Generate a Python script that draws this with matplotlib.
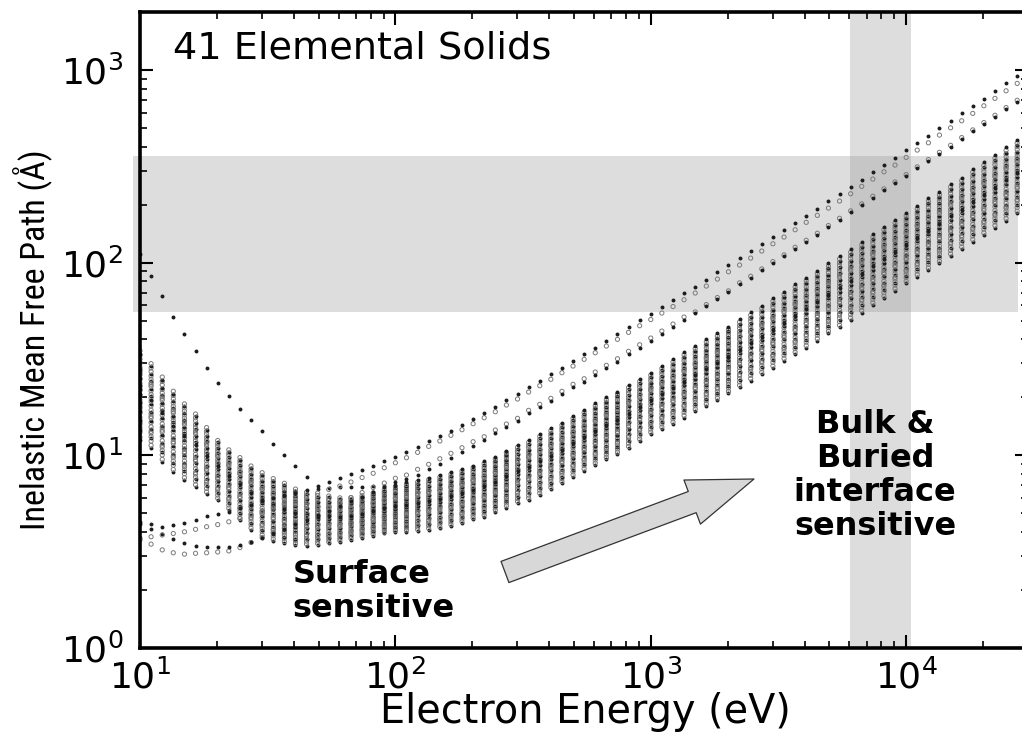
import numpy as np
import matplotlib
matplotlib.use("Agg")
import matplotlib.pyplot as plt
from matplotlib import font_manager
from matplotlib.patches import Rectangle
from matplotlib.ticker import LogLocator, LogFormatterMathtext, NullFormatter

# Electron kinetic energies of the tabulated IMFPs (eV)
energy_ev = [
    10.0, 11.05, 12.22, 13.50, 14.93, 16.50, 18.23, 20.15, 22.27, 24.62,
    27.21, 30.08, 33.25, 36.75, 40.62, 44.89, 49.62, 54.84, 60.62, 67.00,
    74.06, 81.85, 90.47, 100.0, 110.5, 122.2, 135.0, 149.3, 165.0, 182.3,
    201.5, 222.7, 246.2, 272.1, 300.8, 332.5, 367.5, 406.2, 448.9, 496.2,
    548.4, 606.2, 670.0, 740.6, 818.5, 904.7, 1000, 1105, 1222, 1350,
    1493, 1650, 1823, 2015, 2227, 2462, 2721, 3008, 3325, 3675,
    4062, 4489, 4962, 5484, 6062, 6700, 7406, 8185, 9047, 10000,
    11050, 12220, 13500, 14930, 16500, 18230, 20150, 22270, 24620, 27210,
]

# IMFPs (Angstrom) of the elements that stand apart from the main group
imfp_a = [
    111, 85.5, 67.1, 52.2, 42.5, 34.8, 28.3, 23.8, 20.3, 17.5,
    15.25, 13.3, 11.5, 10.0, 8.80, 7.74, 6.93, 7.30, 7.60, 8.00,
    8.39, 8.83, 9.34, 9.83, 10.4, 11.05, 11.8, 12.55, 13.4, 14.4,
    15.4, 16.5, 17.8, 19.3, 20.7, 22.6, 24.4, 26.3, 28.5, 30.9,
    33.4, 36.2, 39.2, 42.5, 46.1, 50.2, 54.1, 58.6, 63.7, 69.3,
    75.0, 81.2, 89.0, 96.8, 105.6, 114.5, 124.4, 135.3, 147.6, 160.5,
    175.2, 190.4, 208.0, 227.0, 247.6, 270.0, 294.2, 321.0, 350.3, 384.0,
    419.0, 454.0, 497.6, 545.0, 595.5, 649.5, 708.8, 777.0, 852.0, 933.0,
]
imfp_b = [
    3.72, 3.78, 3.86, 3.93, 4.01, 4.13, 4.26, 4.37, 4.52, 4.70,
    4.90, 5.11, 5.33, 5.59, 5.86, 6.11, 6.37, 6.65, 6.93, 7.27,
    7.67, 8.07, 8.62, 9.15, 9.72, 10.36, 11.13, 11.87, 12.70, 13.58,
    14.59, 15.67, 16.84, 18.24, 19.60, 21.31, 22.97, 24.80, 26.83, 29.07,
    31.50, 34.07, 36.92, 40.00, 43.48, 47.05, 50.67, 54.76, 59.19, 64.19,
    69.56, 75.6, 82.2, 89.7, 97.2, 105.6, 114.9, 125.3, 135.8, 148.2,
    161.9, 176.0, 192.0, 208.8, 227.8, 248.8, 271.6, 296.3, 321.0, 352.0,
    384.0, 419.0, 459.4, 501.2, 545.0, 595.5, 652.0, 712.3, 780.0, 852.0,
]
imfp_c = [
    3.64, 3.46, 3.23, 3.12, 3.07, 3.10, 3.12, 3.15, 3.19, 3.32,
    3.53, 3.74, 3.98, 4.22, 4.48, 4.76, 5.05, 5.36, 5.69, 6.04,
    6.41, 6.81, 7.18, 7.60, 7.90, 8.46, 8.98, 9.60, 10.24, 10.95,
    11.77, 12.49, 13.53, 14.54, 15.56, 17.12, 18.39, 19.76, 21.48, 23.36,
    24.98, 27.06, 29.31, 31.72, 34.65, 37.49, 40.62, 44.16, 48.02, 52.21,
    55.5, 60.6, 65.9, 71.4, 78.6, 85.0, 92.8, 101.3, 109.7, 120.2,
    130.7, 142.1, 155.8, 170.0, 185.7, 201.9, 221.1, 241.6, 262.5, 286.5,
    314.2, 342.9, 374.0, 406.7, 445.8, 488.8, 533.4, 582.0, 638.1, 696.3,
]
imfp_d = [
    4.40, 4.17, 3.90, 3.66, 3.49, 3.38, 3.33, 3.33, 3.36, 3.44,
    3.57, 3.74, 3.95, 4.17, 4.40, 4.64, 4.90, 5.17, 5.46, 5.76,
    6.07, 6.45, 6.85, 7.27, 7.53, 7.90, 8.46, 9.04, 9.68, 10.44,
    11.17, 12.01, 13.01, 13.98, 15.12, 16.52, 17.75, 19.06, 20.73, 22.54,
    24.09, 26.11, 28.28, 30.60, 33.43, 36.17, 39.19, 42.61, 46.33, 50.37,
    54.56, 59.55, 64.74, 70.14, 77.17, 83.47, 91.20, 99.52, 107.8, 118.1,
    128.4, 139.6, 153.0, 167.0, 182.4, 198.3, 217.2, 237.3, 257.9, 281.4,
    308.6, 336.8, 367.4, 399.5, 437.9, 480.1, 524.0, 571.7, 626.8, 684.0,
]
imfp_e = [
    4.51, 4.40, 4.26, 4.35, 4.44, 4.62, 4.84, 4.96, 5.10, 5.33,
    5.55, 5.79, 6.00, 6.22, 6.41, 6.57, 6.69, 6.77, 6.81, 6.85,
    6.89, 6.93, 6.97, 7.01, 7.23, 7.44, 7.67, 7.90, 8.19, 8.49,
    8.85, 9.29, 9.80, 10.59, 11.31, 12.01, 12.90, 13.81, 14.76, 15.99,
    17.18, 18.62, 20.00, 21.38, 23.16, 24.89, 26.83, 29.07, 31.50, 34.23,
    36.92, 40.00, 42.97, 46.48, 50.79, 55.21, 59.74, 65.28, 70.63, 77.17,
    83.47, 90.45, 99.16, 108.2, 117.2, 127.9, 140.3, 153.6, 166.4, 180.9,
    196.7, 215.7, 232.5, 255.8, 275.8, 305.0, 331.6, 360.5, 396.6, 432.8,
]

# Upper and lower envelope of the main group of 36 elements (Angstrom)
band_high = [
    36.5, 31.2, 26.6, 22.4, 19.2, 17.0, 14.4, 12.3, 11.0, 10.04,
    9.09, 8.39, 7.81, 7.38, 6.87, 6.61, 6.35, 6.30, 6.15, 6.15,
    6.30, 6.53, 6.77, 7.01, 7.23, 7.44, 7.67, 7.90, 8.19, 8.49,
    8.85, 9.29, 9.80, 10.59, 11.31, 12.01, 12.90, 13.81, 14.76, 15.99,
    17.18, 18.62, 20.00, 21.38, 23.16, 24.89, 26.83, 29.07, 31.50, 34.23,
    36.92, 40.00, 42.97, 46.48, 50.79, 55.21, 59.74, 65.28, 70.63, 77.17,
    83.47, 90.45, 99.16, 108.2, 117.2, 127.9, 140.3, 153.6, 166.4, 180.9,
    196.7, 215.7, 232.5, 255.8, 275.8, 305.0, 331.6, 360.5, 396.6, 432.8,
]
band_low = [
    12.01, 10.91, 9.23, 8.19, 7.44, 6.85, 6.30, 5.86, 5.20, 4.62,
    4.10, 3.77, 3.59, 3.49, 3.42, 3.40, 3.42, 3.49, 3.55, 3.64,
    3.74, 3.83, 3.93, 4.00, 4.02, 4.05, 4.10, 4.18, 4.30, 4.44,
    4.65, 4.80, 5.10, 5.36, 5.64, 5.86, 6.22, 6.66, 7.16, 7.74,
    8.34, 8.91, 9.54, 10.16, 10.87, 11.87, 12.90, 13.69, 14.54, 15.71,
    16.98, 18.03, 19.36, 20.98, 22.54, 24.39, 26.33, 28.38, 30.97, 33.43,
    36.17, 39.33, 42.97, 46.15, 50.37, 54.95, 60.26, 65.28, 71.48, 78.09,
    84.53, 91.54, 99.16, 108.2, 117.6, 128.4, 139.1, 151.8, 165.0, 180.3,
]
# Where each element of the main group sits between the envelopes (log scale)
band_position = [
    0.00, 0.03, 0.08, 0.11, 0.13, 0.19, 0.22, 0.24, 0.29, 0.31,
    0.34, 0.39, 0.41, 0.43, 0.48, 0.50, 0.53, 0.57, 0.59, 0.61,
    0.65, 0.67, 0.70, 0.74, 0.76, 0.78, 0.82, 0.84, 0.87, 0.91,
    0.93, 0.96, 0.36, 0.55, 0.72, 0.17,
]
# marker style of each element of the main group: 1 = filled black, 0 = open grey
band_filled = [
    1, 0, 0, 1, 0, 0, 1, 0, 0, 1,
    0, 0, 1, 0, 0, 1, 0, 0, 1, 0,
    0, 1, 0, 0, 1, 0, 0, 1, 0, 0,
    1, 0, 0, 1, 0, 0,
]

# Shaded windows: IMFP range (Angstrom) and hard x-ray energy range (eV)
imfp_window = (55.3, 356.0)
energy_window = (6050, 10400)

BLACK = "#1c1c1c"
GRAY = "#7a7a7a"


def condensed_font():
    """Return a narrow sans-serif face if one is installed."""
    entries = font_manager.fontManager.ttflist
    for want in ("Liberation Sans Narrow", "Roboto Condensed", "Open Sans Condensed"):
        for f in entries:
            if f.name == want and f.weight in (400, "normal", "regular") and f.style == "normal":
                return font_manager.FontProperties(fname=f.fname)
    for f in entries:
        if f.name == "DejaVu Sans" and str(f.stretch) in ("condensed", "semi-condensed") \
                and f.style == "normal" and f.weight in (400, "normal", "regular"):
            return font_manager.FontProperties(fname=f.fname)
    return font_manager.FontProperties(family="DejaVu Sans")


def draw_series(ax, x, y, filled, z):
    if filled:
        ax.scatter(x, y, s=8, c=BLACK, lw=0, zorder=z)
    else:
        ax.scatter(x, y, s=9, facecolors="none", edgecolors=GRAY, lw=0.7, zorder=z)


plt.rcParams["font.family"] = ["DejaVu Sans"]
plt.rcParams["mathtext.default"] = "regular"

fig = plt.figure(figsize=(10.22, 7.42), dpi=100)
ax = fig.add_axes([140 / 1022, 94 / 742, 888 / 1022, 636 / 742])
ax.set_xscale("log")
ax.set_yscale("log")
ax.set_xlim(10, 3.0e4)
ax.set_ylim(1, 2000)

# shaded windows
ax.add_patch(Rectangle((-0.008, imfp_window[0]), 0.997, imfp_window[1] - imfp_window[0],
                       transform=ax.get_yaxis_transform(), facecolor=(0.6, 0.6, 0.6),
                       alpha=0.33, lw=0, zorder=0.5, clip_on=False))
ax.axvspan(*energy_window, facecolor=(0.6, 0.6, 0.6), alpha=0.33, lw=0, zorder=0.5)

E = np.array(energy_ev)
lo = np.log10(band_low)
hi = np.log10(band_high)
for p, filled in zip(band_position, band_filled):
    draw_series(ax, E, 10 ** (lo + p * (hi - lo)), filled, 2)

for vals, filled in ((imfp_e, 1), (imfp_c, 0), (imfp_d, 1), (imfp_b, 0), (imfp_a, 1)):
    draw_series(ax, E, vals, filled, 2.2)

# axes styling
for sp in ax.spines.values():
    sp.set_linewidth(2.6)
    sp.set_zorder(3)
ax.xaxis.set_major_locator(LogLocator(base=10, numticks=10))
ax.xaxis.set_minor_locator(LogLocator(base=10, subs=np.arange(2, 10), numticks=30))
ax.yaxis.set_major_locator(LogLocator(base=10, numticks=10))
ax.yaxis.set_minor_locator(LogLocator(base=10, subs=np.arange(2, 10), numticks=30))
ax.xaxis.set_major_formatter(LogFormatterMathtext())
ax.yaxis.set_major_formatter(LogFormatterMathtext())
ax.xaxis.set_minor_formatter(NullFormatter())
ax.yaxis.set_minor_formatter(NullFormatter())
ax.tick_params(which="both", direction="in", top=True, right=True)
ax.tick_params(which="major", length=9.4, width=1.5, labelsize=26)
ax.tick_params(which="minor", length=5, width=1.2)
ax.tick_params(axis="x", which="major", pad=8)
ax.tick_params(axis="y", which="major", pad=12)

# axis labels
xlab = ax.set_xlabel("Electron Energy (eV)", fontsize=28, va="center")
ax.xaxis.set_label_coords(0.501, -0.1006)
ylab = ax.set_ylabel("Inelastic Mean Free Path (Å)", fontproperties=condensed_font(),
                     va="center")
ylab.set_fontsize(24)
ax.yaxis.set_label_coords(-0.1205, 0.484)

fig.canvas.draw()
bb = xlab.get_window_extent()
xlab.set_fontsize(xlab.get_fontsize() * 410.0 / bb.width)
bb = ylab.get_window_extent()
ylab.set_fontsize(ylab.get_fontsize() * 382.0 / bb.height)

# annotations
ax.text(0.0372, 0.9272, "41 Elemental Solids", transform=ax.transAxes,
        fontsize=27.5, ha="left", va="baseline", zorder=4)
ax.text(0.172, 0.1399, "Surface\nsensitive", transform=ax.transAxes,
        fontsize=23, fontweight="bold", ha="left", va="top", linespacing=1.13, zorder=4)
ax.text(0.8277, 0.3758, "Bulk &\nBuried\ninterface\nsensitive", transform=ax.transAxes,
        fontsize=23, fontweight="bold", ha="center", va="top", multialignment="center",
        linespacing=1.13, zorder=4)
ax.annotate("", xy=(0.6914, 0.2657), xytext=(0.411, 0.1195), xycoords="axes fraction",
            arrowprops=dict(arrowstyle="simple,head_length=2.1,head_width=1.5,tail_width=0.72",
                            mutation_scale=22.6, fc="#d8d8d8", ec="#333333", lw=0.9,
                            shrinkA=0, shrinkB=0), zorder=4)

fig.savefig("out.png", dpi=100)
